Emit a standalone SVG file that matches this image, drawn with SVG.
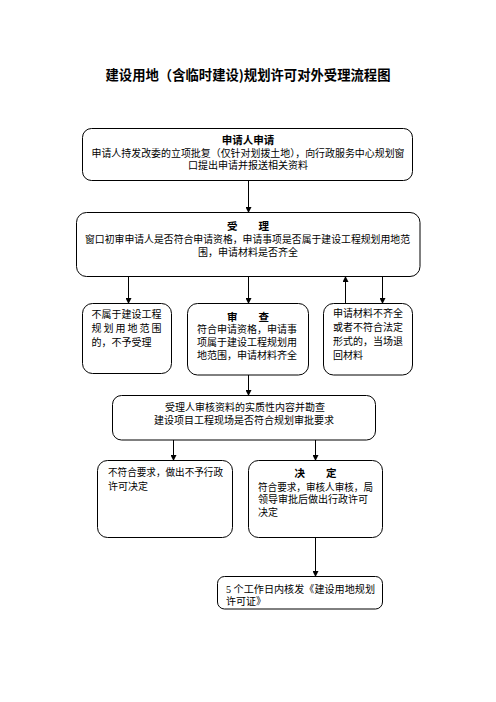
<svg xmlns="http://www.w3.org/2000/svg" width="496" height="702" viewBox="0 0 496 702">
<style>
.box{fill:#fff;stroke:#000;stroke-width:1}
.t{font-family:"Liberation Serif","Noto Sans CJK SC",serif;font-size:10px;fill:#000}
.b{font-family:"Noto Sans CJK SC",sans-serif;font-weight:bold;font-size:10.5px;fill:#000}
.c{text-anchor:middle}
.ln{stroke:#000;stroke-width:1;fill:none}
</style>
<defs>
<marker id="ah" markerWidth="6" markerHeight="6" refX="5" refY="3" orient="auto" markerUnits="userSpaceOnUse">
<path d="M0,0 L6,3 L0,6 Z" fill="#000"/>
</marker>
</defs>
<rect width="496" height="702" fill="#fff"/>
<text x="248" y="80" class="b c" style="font-size:13.5px" textLength="285" lengthAdjust="spacingAndGlyphs">建设用地（含临时建设)规划许可对外受理流程图</text>

<g id="n1">
<rect class="box" x="82.5" y="128.5" width="330" height="52" rx="9"/>
<text x="248" y="144" class="b c">申请人申请</text>
<text x="91.5" y="156.5" class="t" textLength="313" lengthAdjust="spacingAndGlyphs">申请人持发改委的立项批复（仅针对划拨土地），向行政服务中心规划窗</text>
<text x="248" y="169" class="t c">口提出申请并报送相关资料</text>
</g>
<g id="n2">
<rect class="box" x="76.5" y="212.5" width="343.5" height="64" rx="10"/>
<text x="248" y="229.5" class="b c">受　　理</text>
<text x="85" y="243" class="t" textLength="325" lengthAdjust="spacingAndGlyphs">窗口初审申请人是否符合申请资格，申请事项是否属于建设工程规划用地范</text>
<text x="248" y="255.5" class="t c">围，申请材料是否齐全</text>
</g>
<g id="n3a">
<rect class="box" x="82.5" y="303.5" width="89" height="70" rx="10"/>
<text x="91.5" y="318" class="t">不属于建设工程</text>
<text x="91.5" y="332" class="t" textLength="70" lengthAdjust="spacing">规划用地范围</text>
<text x="91.5" y="346" class="t">的，不予受理</text>
</g>
<g id="n3b">
<rect class="box" x="187.5" y="303.5" width="121" height="71.5" rx="10"/>
<text x="248" y="320.5" class="b c">审　　查</text>
<text x="197" y="333" class="t">符合申请资格，申请事</text>
<text x="197" y="346" class="t">项属于建设工程规划用</text>
<text x="197" y="359" class="t">地范围，申请材料齐全</text>
</g>
<g id="n3c">
<rect class="box" x="323.5" y="303.5" width="89" height="71.5" rx="10"/>
<text x="333" y="316.5" class="t">申请材料不齐全</text>
<text x="333" y="330.5" class="t">或者不符合法定</text>
<text x="333" y="344.5" class="t">形式的，当场退</text>
<text x="333" y="358.5" class="t">回材料</text>
</g>
<g id="n4">
<rect class="box" x="112.5" y="395.5" width="263" height="44.5" rx="9"/>
<text x="245" y="410.5" class="t c">受理人审核资料的实质性内容并勘查</text>
<text x="244" y="423.5" class="t c">建设项目工程现场是否符合规划审批要求</text>
</g>
<g id="n5a">
<rect class="box" x="97.5" y="460.5" width="135" height="77" rx="10"/>
<text x="108" y="475.5" class="t" textLength="115" lengthAdjust="spacingAndGlyphs">不符合要求，做出不予行政</text>
<text x="108" y="489.5" class="t">许可决定</text>
</g>
<g id="n5b">
<rect class="box" x="248.5" y="460.5" width="134" height="77" rx="10"/>
<text x="315.5" y="476.5" class="b c">决　　定</text>
<text x="258" y="490.5" class="t" textLength="115" lengthAdjust="spacingAndGlyphs">符合要求，审核人审核，局</text>
<text x="258" y="503" class="t">领导审批后做出行政许可</text>
<text x="258" y="516" class="t">决定</text>
</g>
<g id="n6">
<rect class="box" x="217.5" y="576.5" width="165" height="32.5" rx="7"/>
<text x="226" y="593" class="t" textLength="149" lengthAdjust="spacingAndGlyphs">5 个工作日内核发《建设用地规划</text>
<text x="226" y="604.5" class="t">许可证》</text>
</g>

<g id="connectors">
<line class="ln" x1="248.5" y1="180.5" x2="248.5" y2="212" marker-end="url(#ah)"/>
<line class="ln" x1="128.5" y1="276.5" x2="128.5" y2="303" marker-end="url(#ah)"/>
<line class="ln" x1="248.5" y1="276.5" x2="248.5" y2="303" marker-end="url(#ah)"/>
<line class="ln" x1="345.5" y1="303.5" x2="345.5" y2="277" marker-end="url(#ah)"/>
<line class="ln" x1="382.5" y1="276.5" x2="382.5" y2="303" marker-end="url(#ah)"/>
<line class="ln" x1="248.5" y1="375" x2="248.5" y2="395" marker-end="url(#ah)"/>
<line class="ln" x1="173.5" y1="440" x2="173.5" y2="460" marker-end="url(#ah)"/>
<line class="ln" x1="315.5" y1="440" x2="315.5" y2="460" marker-end="url(#ah)"/>
<line class="ln" x1="315.5" y1="537.5" x2="315.5" y2="576" marker-end="url(#ah)"/>
</g>
</svg>
